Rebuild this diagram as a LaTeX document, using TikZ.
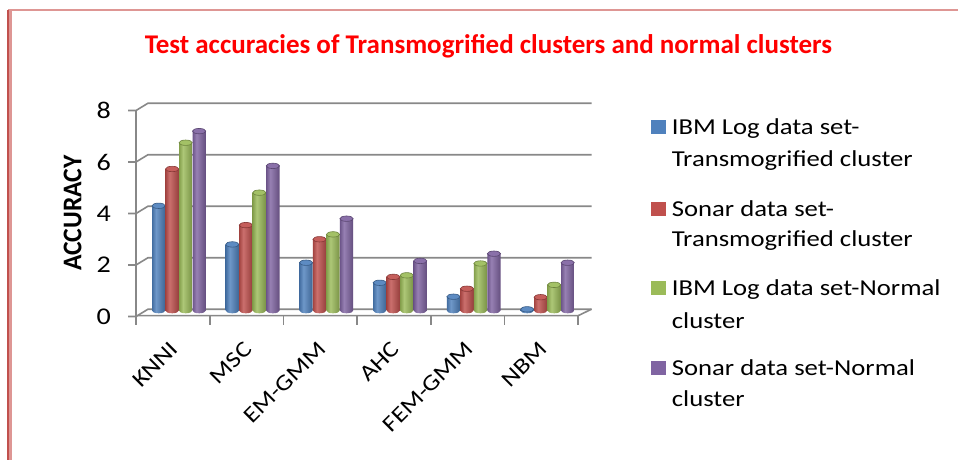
\documentclass[tikz,border=0pt]{standalone}
\usepackage{fontspec}
\setmainfont{Carlito}
\newfontfamily\legfont[FakeStretch=1.17]{Carlito}
\newfontfamily\ylabfont[FakeStretch=0.95]{Carlito}
\definecolor{c0}{HTML}{4F81BD}
\definecolor{c1}{HTML}{C0504D}
\definecolor{c2}{HTML}{9BBB59}
\definecolor{c3}{HTML}{8064A2}
\colorlet{d0}{c0!85!black}\colorlet{l0}{c0!82!white}\colorlet{e0}{c0!78!black}\colorlet{t0}{c0!92!white}\colorlet{o0}{c0!70!black}
\colorlet{d1}{c1!85!black}\colorlet{l1}{c1!82!white}\colorlet{e1}{c1!78!black}\colorlet{t1}{c1!92!white}\colorlet{o1}{c1!70!black}
\colorlet{d2}{c2!85!black}\colorlet{l2}{c2!82!white}\colorlet{e2}{c2!78!black}\colorlet{t2}{c2!92!white}\colorlet{o2}{c2!70!black}
\colorlet{d3}{c3!85!black}\colorlet{l3}{c3!82!white}\colorlet{e3}{c3!78!black}\colorlet{t3}{c3!92!white}\colorlet{o3}{c3!70!black}
\pgfdeclarehorizontalshading{cyl0}{100bp}{color(0bp)=(d0); color(25bp)=(d0); color(40bp)=(l0); color(75bp)=(e0); color(100bp)=(e0)}
\pgfdeclarehorizontalshading{cyl1}{100bp}{color(0bp)=(d1); color(25bp)=(d1); color(40bp)=(l1); color(75bp)=(e1); color(100bp)=(e1)}
\pgfdeclarehorizontalshading{cyl2}{100bp}{color(0bp)=(d2); color(25bp)=(d2); color(40bp)=(l2); color(75bp)=(e2); color(100bp)=(e2)}
\pgfdeclarehorizontalshading{cyl3}{100bp}{color(0bp)=(d3); color(25bp)=(d3); color(40bp)=(l3); color(75bp)=(e3); color(100bp)=(e3)}
\definecolor{gridgray}{HTML}{888888}
\definecolor{framedark}{RGB}{192,80,77}
\definecolor{framelight}{RGB}{222,150,148}
\begin{document}
\begin{tikzpicture}[x=1pt,y=-1pt,
  gridline/.style={gridgray,line width=1.6pt},
  ticklab/.style={font=\legfont\fontsize{24}{28}\selectfont,anchor=east,inner sep=0pt},
  catlab/.style={font=\legfont\fontsize{22.5}{26}\selectfont,anchor=north east,rotate=45,inner sep=0pt},
  legtext/.style={font=\legfont\fontsize{22.8}{28}\selectfont,anchor=base west,inner sep=0pt},
  titlestyle/.style={font=\bfseries\fontsize{27}{32}\selectfont,text=red,anchor=base,inner sep=0pt}]
\useasboundingbox (0,0) rectangle (958,460);
\fill[white] (0,0) rectangle (958,460);
% frame
\draw[framelight,line width=2pt] (8,10) -- (958,10);
\draw[framelight,line width=2.6pt] (10.3,10) -- (10.3,460);
\draw[framedark,line width=2.2pt] (7.8,10) -- (7.8,460);
% title
\node[titlestyle] (title) at (488.5,53.3) {Test accuracies of Transmogrified clusters and normal clusters};
% grid: back wall lines, side diagonals, ticks
\foreach \k in {0,...,4}{
  \draw[gridline] (128,316.5-51.5*\k) -- (136,316.5-51.5*\k) -- (148,309.2-51.5*\k) -- (591.5,309.2-51.5*\k);
  \pgfmathtruncatemacro\lbl{2*\k}
  \node[ticklab] (ytick\k) at (111,316.5-51.5*\k) {\lbl};
}
% axis and floor
\draw[gridline] (136,110.5) -- (136,325);
\draw[gridline] (136,315.6) -- (578.3,315.6) -- (591.5,309.2);
\foreach \i in {1,...,6}{
  \draw[gridline] (136+73.7*\i,315.6) -- (136+73.7*\i,325);
}
% bars
\foreach \i/\j/\v in {0/0/4.07,0/1/5.50,0/2/6.52,0/3/6.97,
                      1/0/2.57,1/1/3.32,1/2/4.58,1/3/5.62,
                      2/0/1.86,2/1/2.77,2/2/2.96,2/3/3.57,
                      3/0/1.08,3/1/1.31,3/2/1.37,3/3/1.93,
                      4/0/0.54,4/1/0.85,4/2/1.83,4/3/2.21,
                      5/0/0.05,5/1/0.52,5/2/1.00,5/3/1.86}{
  \pgfmathsetmacro\bx{136+73.7*\i+16+13.5*\j}
  \pgfmathsetmacro\ty{310.6-25.75*\v}
  \shade[shading=cyl\j] (\bx,\ty) -- (\bx,310.6) arc[start angle=180,end angle=360,x radius=6.65pt,y radius=2.7pt] -- (\bx+13.3,\ty) -- cycle;
  \fill[t\j,draw=o\j,line width=0.6pt] (\bx+6.65,\ty) ellipse[x radius=6.65pt,y radius=2.7pt];
}
% category labels
\foreach \lab [count=\i from 0] in {KNNI,MSC,EM-GMM,AHC,FEM-GMM,NBM}{
  \node[catlab] (cat\i) at (136+73.7*\i+36.85-3.5,340) {\lab};
}
% y label
\node[font=\ylabfont\bfseries\fontsize{27}{30}\selectfont,rotate=90,inner sep=0pt] (ylab) at (72.5,213) {ACCURACY};
% legend
\fill[c0] (651,120) rectangle (666,134.3);
\fill[c1] (651,201.7) rectangle (666,216);
\fill[c2] (651,280.7) rectangle (666,295);
\fill[c3] (651,360.7) rectangle (666,375);
\node[legtext] (leg1a) at (671.7,134.3) {IBM Log data set-};
\node[legtext] (leg1b) at (671.7,166.7) {Transmogrified cluster};
\node[legtext] (leg2a) at (671.7,216) {Sonar data set-};
\node[legtext] (leg2b) at (671.7,246.7) {Transmogrified cluster};
\node[legtext] (leg3a) at (671.7,295) {IBM Log data set-Normal};
\node[legtext] (leg3b) at (671.7,328.3) {cluster};
\node[legtext] (leg4a) at (671.7,375) {Sonar data set-Normal};
\node[legtext] (leg4b) at (671.7,406.7) {cluster};
\end{tikzpicture}
\end{document}
